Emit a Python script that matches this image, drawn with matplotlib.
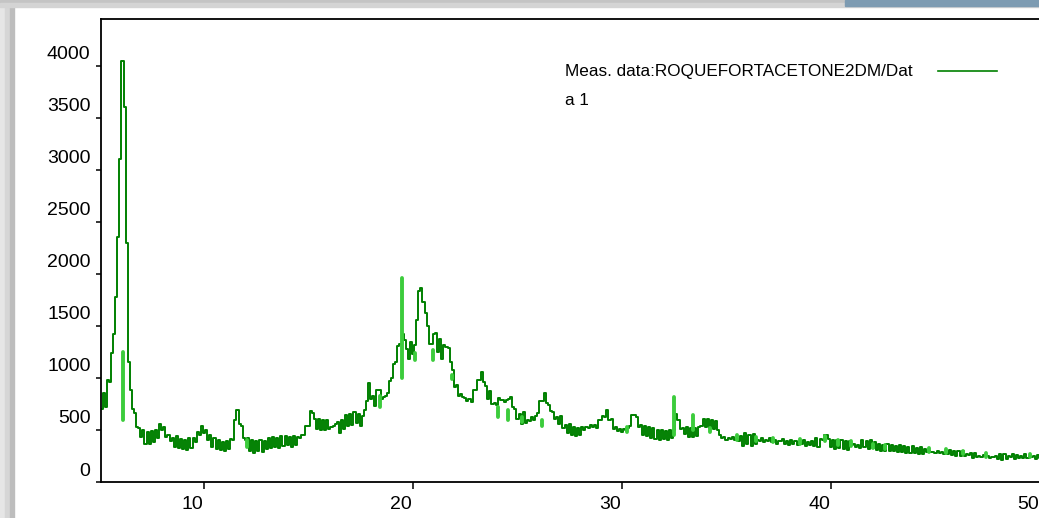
import matplotlib
matplotlib.use("Agg")
import matplotlib.pyplot as plt
import matplotlib.transforms as mtransforms
from matplotlib.patches import Rectangle
import numpy as np

plt.rcParams['font.family'] = ['Liberation Sans', 'DejaVu Sans']

# step scan: start angle, step width (deg 2-theta)
scan_start = 5.1
scan_step = 0.1

# measured counts, one row per degree
counts = [
    700, 860, 720, 980, 960, 1240, 1420, 1780, 2350, 3100,
    4050, 3600, 2300, 1150, 880, 700, 660, 530, 520, 430,
    500, 370, 480, 370, 490, 380, 500, 420, 560, 500,
    530, 430, 450, 390, 420, 340, 440, 330, 410, 320,
    400, 310, 420, 330, 420, 380, 480, 450, 540, 470,
    500, 400, 450, 340, 420, 320, 400, 310, 380, 300,
    390, 320, 410, 400, 600, 690, 560, 540, 420, 400,
    420, 300, 400, 280, 390, 300, 400, 290, 390, 320,
    420, 330, 430, 340, 420, 330, 440, 350, 440, 360,
    430, 340, 440, 360, 430, 420, 450, 450, 540, 540,
    680, 660, 610, 510, 610, 500, 600, 500, 600, 510,
    530, 540, 560, 580, 470, 600, 510, 640, 540, 650,
    550, 670, 570, 650, 540, 630, 690, 780, 950, 800,
    830, 730, 880, 880, 800, 820, 830, 860, 970, 1000,
    1130, 1150, 1310, 1330, 1420, 1360, 1280, 1180, 1350, 1230,
    1320, 1560, 1840, 1860, 1730, 1620, 1500, 1330, 1330, 1420,
    1430, 1250, 1370, 1180, 1320, 1300, 1290, 1150, 1080, 910,
    930, 830, 850, 820, 810, 780, 800, 770, 880, 880,
    980, 980, 1060, 960, 920, 800, 870, 750, 760, 740,
    810, 790, 790, 770, 790, 800, 820, 720, 700, 610,
    650, 560, 670, 570, 600, 590, 620, 600, 630, 660,
    780, 780, 860, 760, 740, 680, 670, 610, 620, 560,
    630, 520, 550, 470, 560, 450, 530, 440, 520, 450,
    530, 500, 530, 520, 550, 530, 550, 520, 600, 600,
    630, 620, 690, 600, 610, 510, 530, 490, 510, 480,
    510, 500, 520, 540, 640, 640, 620, 530, 550, 450,
    540, 440, 530, 420, 520, 410, 500, 400, 500, 410,
    490, 400, 500, 420, 500, 650, 600, 510, 520, 460,
    530, 430, 520, 430, 520, 440, 530, 540, 610, 530,
    610, 520, 600, 510, 590, 500, 450, 420, 430, 400,
    420, 410, 430, 400, 410, 390, 440, 350, 470, 370,
    450, 350, 460, 370, 400, 390, 420, 380, 400, 390,
    420, 380, 400, 370, 390, 390, 410, 370, 390, 360,
    400, 370, 390, 360, 380, 370, 400, 350, 380, 360,
    390, 350, 420, 340, 410, 400, 450, 450, 410, 340,
    400, 320, 400, 330, 400, 320, 390, 310, 390, 360,
    370, 340, 360, 330, 400, 340, 390, 320, 400, 330,
    380, 310, 370, 300, 360, 300, 370, 300, 360, 300,
    350, 290, 360, 290, 350, 280, 340, 280, 350, 280,
    330, 270, 340, 270, 320, 290, 300, 290, 290, 280,
    300, 280, 290, 270, 280, 270, 310, 260, 300, 250,
    300, 250, 300, 250, 270, 260, 280, 230, 280, 240,
    250, 240, 260, 250, 250, 230, 240, 240, 250, 220,
    270, 210, 270, 220, 250, 240, 270, 220, 260, 230,
    250, 230, 270, 230, 240, 240, 250, 220, 260, 230,
    250, 230, 240, 220, 250, 230, 250, 230, 240, 230,
]

# light green overlay segments: angle, low, high
hl_angle = [6.1, 12.05, 18.42, 19.47, 20.1, 20.96, 21.86, 24.07, 24.54, 25.2,
            26.17, 30.24, 32.5, 33.4, 34.2, 35.5, 36.4, 37.2, 38.5, 39.7,
            40.35, 40.95, 42.0, 42.6, 44.7, 45.5, 46.3, 47.4, 49.5]
hl_low = [600, 340, 720, 1000, 1170, 1170, 990, 625, 600, 580,
          540, 480, 450, 500, 480, 400, 390, 380, 370, 390,
          360, 350, 330, 320, 290, 280, 270, 240, 240]
hl_high = [1250, 400, 830, 1960, 1240, 1270, 1030, 720, 690, 620,
           600, 530, 820, 645, 520, 450, 430, 420, 410, 440,
           400, 390, 370, 360, 330, 320, 300, 280, 270]

legend_line1 = "Meas. data:ROQUEFORTACETONE2DM/Dat"
legend_line2 = "a 1"

dark_green = '#008000'
light_green = '#3ccc3c'

W, H = 1039, 518
fig = plt.figure(figsize=(W / 100, H / 100), dpi=100)

# screenshot frame
def px_rect(x, y, w, h, color):
    fig.patches.append(Rectangle((x / W, 1 - (y + h) / H), w / W, h / H,
                                 transform=fig.transFigure, color=color, zorder=0))

px_rect(0, 0, 5, H, '#e6e6e6')
px_rect(5, 0, 5, H, '#d6d6d6')
px_rect(10, 0, 4, H, '#bdbdbd')
px_rect(0, 0, W, 3, '#c4c4c4')
px_rect(0, 3, W, 4, '#d4d4d4')
px_rect(845, 0, W - 845, 6, '#7d9bb2')

# axes placed in pixels; right side runs past the screenshot edge
x0, x1 = 5.07, 51.5
ppu = 20.9
ax = fig.add_axes([101 / W, 36 / H, (x1 - x0) * ppu / W, 463 / H])
ax.patch.set_alpha(0)

angles = scan_start + scan_step * np.arange(len(counts))
ax.plot(angles, counts, color=dark_green, lw=1.4, drawstyle='steps-mid')
ax.vlines(hl_angle, hl_low, hl_high, color=light_green, lw=2.8, capstyle='round')

ax.set_xlim(x0, x1)
ax.set_ylim(0, 4450)
ax.set_xticks([10, 20, 30, 40, 50])
ax.set_yticks(np.arange(0, 4001, 500))
ax.spines['right'].set_visible(False)
for s in ['left', 'top', 'bottom']:
    ax.spines[s].set_linewidth(1.3)
ax.tick_params(axis='x', direction='out', length=5, width=1.1, pad=5, labelsize=14)
ax.tick_params(axis='y', direction='out', length=3.5, width=1.1, pad=4, labelsize=14)

# labels sit a little off their ticks, as in the original program
dx = mtransforms.ScaledTranslation(-12 / 100, 0, fig.dpi_scale_trans)
for lab in ax.get_xticklabels():
    lab.set_transform(lab.get_transform() + dx)
dy = mtransforms.ScaledTranslation(0, 13 / 100, fig.dpi_scale_trans)
for lab in ax.get_yticklabels():
    lab.set_transform(lab.get_transform() + dy)

# legend drawn by hand
fig.text(565 / W, 1 - 72 / H, legend_line1, fontsize=12.3, va='center', ha='left')
fig.text(565 / W, 1 - 101 / H, legend_line2, fontsize=12.3, va='center', ha='left')
fig.lines.append(plt.Line2D([938 / W, 997 / W], [1 - 71 / H, 1 - 71 / H],
                            transform=fig.transFigure, color=dark_green, lw=1.2))

fig.savefig('out.png', dpi=100)
